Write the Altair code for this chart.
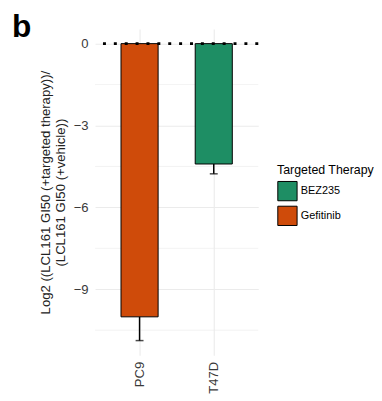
import altair as alt
import pandas as pd

# ---- data ----
cell_lines = ["PC9", "T47D"]
therapy = ["Gefitinib", "BEZ235"]
log2_ratio = [-10.01, -4.41]
err_low = [-10.88, -4.77]

legend_order = ["BEZ235", "Gefitinib"]
legend_colors = ["#1E8E64", "#CF4B0A"]

major_ticks = [-9, -6, -3, 0]
minor_grid = [-10.5, -7.5, -4.5, -1.5]
y_domain = [-11.42, 0.54]

df = pd.DataFrame({"cell": cell_lines, "therapy": therapy,
                   "value": log2_ratio, "low": err_low})
minor_df = pd.DataFrame({"g": minor_grid})

W, H = 165, 330
FONT = "Liberation Sans"

x_enc = alt.X("cell:N", sort=cell_lines,
              scale=alt.Scale(paddingInner=0.5, paddingOuter=0.35),
              axis=alt.Axis(title=None, labelAngle=270, labelAlign="right",
                            labelBaseline="middle", labelPadding=6,
                            labelFontSize=13.2, labelColor="#3a3a3a",
                            labelFont=FONT, ticks=False, domain=False,
                            grid=True, gridColor="#ebebeb", gridWidth=1.1,
                            bandPosition=0.5))
y_scale = alt.Scale(domain=y_domain, nice=False, zero=False)

base = alt.Chart(df)

minor = alt.Chart(minor_df).mark_rule(color="#ebebeb", strokeWidth=0.6).encode(
    y=alt.Y("g:Q", scale=y_scale)
)

bars = base.mark_bar(stroke="black", strokeWidth=1).encode(
    x=x_enc,
    y=alt.Y("value:Q", scale=y_scale,
            axis=alt.Axis(values=major_ticks, title=[
                "Log2 ((LCL161 GI50 (+targeted therapy))/",
                "(LCL161 GI50 (+vehicle))"],
                titleFontSize=13.3, titleFont=FONT, titleFontWeight="normal",
                titleColor="#222222", titlePadding=6,
                labelFontSize=13.2, labelColor="#3a3a3a", labelFont=FONT,
                labelPadding=7, ticks=False, domain=False,
                grid=True, gridColor="#ebebeb", gridWidth=1.1)),
    y2=alt.datum(0),
    color=alt.Color("therapy:N",
                    scale=alt.Scale(domain=legend_order, range=legend_colors),
                    legend=alt.Legend(title="Targeted Therapy", orient="none",
                                      legendX=184, legendY=137,
                                      symbolType="square", symbolSize=380,
                                      symbolStrokeColor="black",
                                      symbolStrokeWidth=1, symbolOpacity=1,
                                      rowPadding=0, titlePadding=4,
                                      titleFontSize=12.5, titleFont=FONT,
                                      titleFontWeight="normal",
                                      titleColor="black",
                                      labelFontSize=11, labelFont=FONT,
                                      labelColor="black", labelOffset=3)),
)

err = base.mark_rule(color="black", strokeWidth=1.5).encode(
    x=alt.X("cell:N", sort=cell_lines),
    y=alt.Y("value:Q", scale=y_scale),
    y2="low:Q",
)
caps = base.mark_tick(color="black", size=8, thickness=1.5).encode(
    x=alt.X("cell:N", sort=cell_lines),
    y=alt.Y("low:Q", scale=y_scale),
)

zero = alt.Chart(pd.DataFrame({"z": [0]})).mark_rule(
    color="black", strokeWidth=3, strokeDash=[3, 8], strokeCap="butt"
).encode(y=alt.Y("z:Q", scale=y_scale))

label_b = alt.Chart(pd.DataFrame({"t": ["b"]})).mark_text(
    fontSize=32, fontWeight="bold", font=FONT, align="left",
    baseline="alphabetic", color="black"
).encode(x=alt.value(-84), y=alt.value(8), text="t:N")

chart = alt.layer(minor, bars, err, caps, zero, label_b).properties(
    width=W, height=H,
    background="white",
    padding={"left": 4, "top": 1, "right": 0, "bottom": 0},
).configure_view(stroke=None, strokeWidth=0)

chart.save("out.html", embed_options={"renderer": "svg", "actions": False})
